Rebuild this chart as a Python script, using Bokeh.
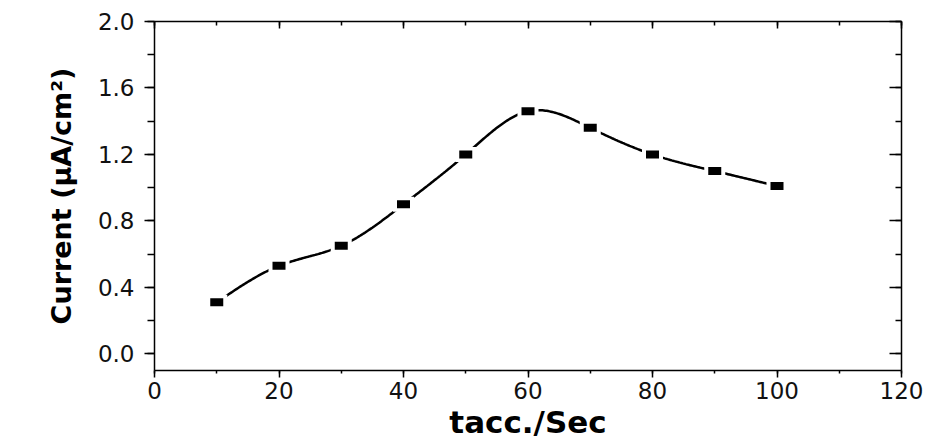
import numpy as np
from bokeh.plotting import figure
from bokeh.models import LinearAxis, Range1d, FixedTicker, PrintfTickFormatter, CustomJSTickFormatter
from bokeh.embed import file_html
from bokeh.resources import INLINE

# data
t_acc = [10, 20, 30, 40, 50, 60, 70, 80, 90, 100]
current = [0.31, 0.53, 0.65, 0.90, 1.20, 1.46, 1.36, 1.20, 1.10, 1.01]
x_ticks = [0, 20, 40, 60, 80, 100, 120]
x_minor = [0, 10, 20, 30, 40, 50, 60, 70, 80, 90, 100, 110, 120]
y_ticks = [0.0, 0.4, 0.8, 1.2, 1.6, 2.0]
y_minor = [0.0, 0.2, 0.4, 0.6, 0.8, 1.0, 1.2, 1.4, 1.6, 1.8, 2.0]


def natural_spline(xs, ys, n=400):
    xs = np.asarray(xs, float)
    ys = np.asarray(ys, float)
    k = len(xs)
    h = np.diff(xs)
    A = np.zeros((k, k))
    b = np.zeros(k)
    A[0, 0] = A[-1, -1] = 1.0
    for i in range(1, k - 1):
        A[i, i - 1] = h[i - 1]
        A[i, i] = 2 * (h[i - 1] + h[i])
        A[i, i + 1] = h[i]
        b[i] = 3 * ((ys[i + 1] - ys[i]) / h[i] - (ys[i] - ys[i - 1]) / h[i - 1])
    c = np.linalg.solve(A, b)
    xx = np.linspace(xs[0], xs[-1], n)
    yy = np.empty_like(xx)
    for j, xv in enumerate(xx):
        i = min(np.searchsorted(xs, xv, side="right") - 1, k - 2)
        dx = xv - xs[i]
        bi = (ys[i + 1] - ys[i]) / h[i] - h[i] * (2 * c[i] + c[i + 1]) / 3
        di = (c[i + 1] - c[i]) / (3 * h[i])
        yy[j] = ys[i] + bi * dx + c[i] * dx ** 2 + di * dx ** 3
    return xx, yy


p = figure(width=933, height=446, output_backend="svg", toolbar_location=None,
           x_range=Range1d(0, 120), y_range=Range1d(-0.1, 2.0),
           min_border_left=154, min_border_right=32, min_border_top=21,
           min_border_bottom=76, x_axis_label="tacc./Sec",
           y_axis_label="Current (\u03bcA/cm\u00b2)")
p.outline_line_color = None
p.grid.visible = False
p.background_fill_color = "white"
p.border_fill_color = "white"

sx, sy = natural_spline(t_acc, current)
p.line(sx, sy, line_color="black", line_width=2.5)
p.rect(t_acc, current, width=21, height=15, width_units="screen",
       height_units="screen", fill_color="white", line_color=None)
p.rect(t_acc, current, width=13, height=8, width_units="screen",
       height_units="screen", fill_color="black", line_color=None)

xa = p.xaxis[0]
xa.ticker = FixedTicker(ticks=x_ticks, minor_ticks=x_minor)
ya = p.yaxis[0]
ya.ticker = FixedTicker(ticks=y_ticks, minor_ticks=y_minor)
ya.formatter = PrintfTickFormatter(format="%.1f")

for ax in (xa, ya):
    ax.axis_line_color = "black"
    ax.axis_line_width = 1.5
    ax.major_tick_line_color = "black"
    ax.minor_tick_line_color = "black"
    ax.major_tick_line_width = 1.5
    ax.minor_tick_line_width = 1.5
    ax.major_label_text_font = "DejaVu Sans"
    ax.major_label_text_font_size = "23px"
    ax.major_label_text_color = "#111111"
    ax.major_tick_in = 0
    ax.minor_tick_in = 0

xa.major_tick_out = 7
xa.minor_tick_out = 3
xa.major_label_standoff = 4
xa.axis_label_text_font = "DejaVu Sans"
xa.axis_label_text_font_style = "bold"
xa.axis_label_text_font_size = "31px"
xa.axis_label_text_color = "black"
xa.axis_label_standoff = 2

ya.major_tick_out = 10
ya.minor_tick_out = 7
ya.major_label_standoff = 10
ya.axis_label_text_font = "DejaVu Sans"
ya.axis_label_text_font_style = "bold"
ya.axis_label_text_font_size = "27px"
ya.axis_label_text_color = "black"
ya.axis_label_standoff = 18

blank = CustomJSTickFormatter(code="return ''")
top = LinearAxis(ticker=FixedTicker(ticks=x_ticks, minor_ticks=x_minor),
                 formatter=blank, major_tick_in=7, major_tick_out=0,
                 minor_tick_in=4, minor_tick_out=0, axis_line_color="black",
                 axis_line_width=1.5, major_tick_line_width=1.5, minor_tick_line_width=1.5,
                 major_label_standoff=0)
right = LinearAxis(ticker=FixedTicker(ticks=y_ticks, minor_ticks=y_minor),
                   formatter=blank, major_tick_in=12, major_tick_out=0,
                   minor_tick_in=6, minor_tick_out=0, axis_line_color="black",
                   axis_line_width=1.5, major_tick_line_width=1.5, minor_tick_line_width=1.5,
                   major_label_standoff=0)
p.add_layout(top, "above")
p.add_layout(right, "right")

open("out.html", "w").write(file_html(p, INLINE))
